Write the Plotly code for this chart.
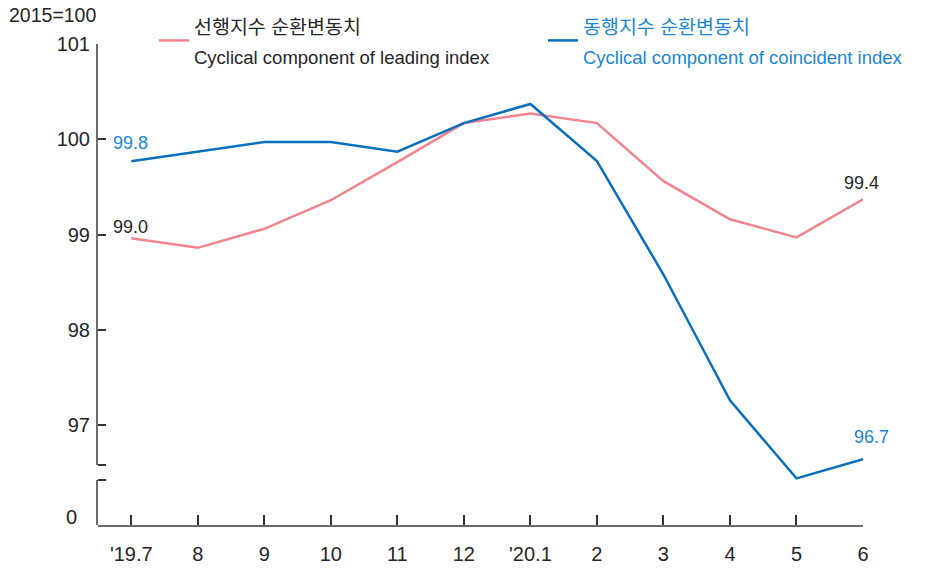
import plotly.graph_objects as go

# ---- data ----
months = ["'19.7", "8", "9", "10", "11", "12", "'20.1", "2", "3", "4", "5", "6"]
leading = [98.96, 98.86, 99.06, 99.36, 99.76, 100.17, 100.27, 100.17, 99.56, 99.16, 98.97, 99.37]
coincident = [99.77, 99.87, 99.97, 99.97, 99.87, 100.17, 100.37, 99.77, 98.58, 97.26, 96.44, 96.64]
y_ticks = [97, 98, 99, 100, 101]
leading_name_ko = "선행지수 순환변동치"
leading_name_en = "Cyclical component of leading index"
coincident_name_ko = "동행지수 순환변동치"
coincident_name_en = "Cyclical component of coincident index"
leading_labels = {0: "99.0", 11: "99.4"}
coincident_labels = {0: "99.8", 11: "96.7"}
base_note = "2015=100"

PINK = "#F2848E"
BLUE = "#0A70BC"
LBLUE = "#1C87CF"
DARK = "#262626"
AXIS = "#6b6b6b"
FONT = "Liberation Sans, Arial, Noto Sans CJK KR, sans-serif"

W, H = 942, 570
ML, MR, MT, MB = 98, 79, 44, 45
PH = H - MT - MB
PW = W - ML - MR
top_val = 101
px_per_unit = 95.25
upper_bottom_px = 465
lower_top_px = 480
x_axis_px = 525


def val_at(px):
    return top_val - (px - MT) / px_per_unit


y_min = val_at(x_axis_px)
break_hi = val_at(upper_bottom_px)
break_lo = val_at(lower_top_px)

fig = go.Figure()


def legend_name(ko, en, color):
    return (f"<span style='font-size:19.5px;color:{color}'>{ko}</span><br>"
            f"<span style='font-size:18.5px;color:{color}'>{en}</span>")


# empty helper traces so the two broken-axis segments exist
fig.add_trace(go.Scatter(x=[None], y=[None], yaxis="y2", showlegend=False, hoverinfo="skip"))
fig.add_trace(go.Scatter(x=[None], y=[None], yaxis="y3", showlegend=False, hoverinfo="skip"))
fig.add_trace(go.Scatter(x=months, y=leading, mode="lines",
                         line=dict(color=PINK, width=2.5), legend="legend",
                         name=legend_name(leading_name_ko, leading_name_en, DARK)))
fig.add_trace(go.Scatter(x=months, y=coincident, mode="lines",
                         line=dict(color=BLUE, width=2.5), legend="legend2",
                         name=legend_name(coincident_name_ko, coincident_name_en, LBLUE)))

annotations = []
for i, t in leading_labels.items():
    annotations.append(dict(x=i, y=leading[i], xref="x", yref="y", text=t,
                            showarrow=False, yshift=(11 if i == 0 else 16), xshift=(-1 if i == 0 else -2),
                            font=dict(size=18, color=DARK, family=FONT)))
for i, t in coincident_labels.items():
    annotations.append(dict(x=i, y=coincident[i], xref="x", yref="y", text=t,
                            showarrow=False, yshift=(18 if i == 0 else 22), xshift=(-1 if i == 0 else 8),
                            font=dict(size=18, color=LBLUE, family=FONT)))
annotations.append(dict(x=(7 - ML) / PW, y=1 + (MT - 15) / PH, xref="paper", yref="paper",
                        text=base_note, showarrow=False, xanchor="left", yanchor="middle",
                        font=dict(size=19.5, color=DARK, family=FONT)))

legend_common = dict(orientation="v", xanchor="left", yanchor="top",
                     y=1 + (MT - 4) / PH,
                     font=dict(size=23, family=FONT, color=DARK),
                     bgcolor="rgba(0,0,0,0)", borderwidth=0, valign="middle")

tick_style = dict(ticks="inside", ticklen=8, tickwidth=1.5, tickcolor="#333333")

fig.update_layout(
    width=W, height=H,
    margin=dict(l=ML, r=MR, t=MT, b=MB, autoexpand=False),
    plot_bgcolor="rgba(0,0,0,0)", paper_bgcolor="white",
    font=dict(family=FONT, color=DARK, size=20),
    showlegend=True,
    legend=dict(x=(154 - ML) / PW, **legend_common),
    legend2=dict(x=(543 - ML) / PW, **legend_common),
    xaxis=dict(type="category", range=[-0.5, 11], anchor="y",
               showline=True, linecolor=AXIS, linewidth=2,
               ticks="inside", ticklen=10, tickwidth=1.5, tickcolor="#333333",
               showgrid=False, zeroline=False, ticklabelstandoff=10,
               tickfont=dict(size=20, color=DARK, family=FONT)),
    yaxis=dict(domain=[0, 1], range=[y_min, top_val], anchor="x", tickmode="array",
               tickvals=[break_lo, break_hi] + y_ticks,
               ticktext=["", ""] + [str(v) for v in y_ticks],
               showline=False, showgrid=False, zeroline=False, ticklabelstandoff=7,
               tickfont=dict(size=20, color=DARK, family=FONT), **tick_style),
    yaxis2=dict(domain=[0, (x_axis_px - lower_top_px) / PH], range=[y_min, break_lo],
                anchor="x", tickmode="array", tickvals=[val_at(517)], ticktext=["0"],
                showline=True, linecolor=AXIS, linewidth=2, ticks="",
                showgrid=False, zeroline=False, ticklabelstandoff=15,
                tickfont=dict(size=20, color=DARK, family=FONT)),
    yaxis3=dict(domain=[(x_axis_px - upper_bottom_px) / PH, 1], range=[break_hi, top_val],
                anchor="x", showticklabels=False, ticks="",
                showline=True, linecolor=AXIS, linewidth=2,
                showgrid=False, zeroline=False),
    annotations=annotations,
)

fig.write_html("out.html", config={"displayModeBar": False},
               post_script="document.body.style.margin='0';")
